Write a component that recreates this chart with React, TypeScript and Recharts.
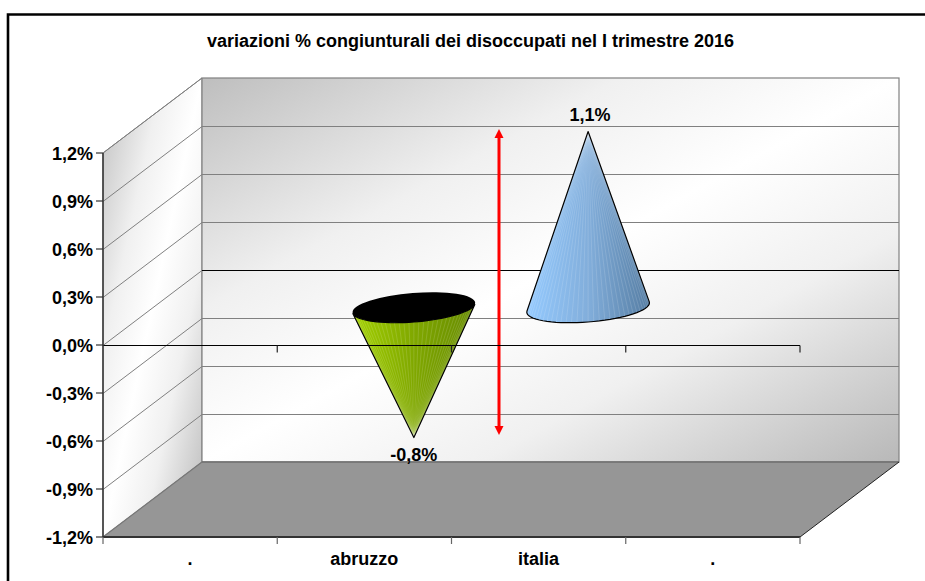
import React from "react";
import { BarChart, Bar, XAxis, YAxis, Customized, ReferenceLine, LabelList } from "recharts";

const categories = [".", "abruzzo", "italia", "."];
const variations: (number | null)[] = [null, -0.8, 1.1, null];
const yTicks = [-1.2, -0.9, -0.6, -0.3, 0, 0.3, 0.6, 0.9, 1.2];
const titleText = "variazioni % congiunturali dei disoccupati nel I trimestre 2016";
const rows = categories.map((name, i) => ({ name, value: variations[i] }));

const W = 925, H = 581;
const PL = 103, PT = 153, PR = 800, PB = 537;
const DX = 99, DY = -75;
const FONT = "'Liberation Sans', Arial, sans-serif";
const LABEL_SIZE = 18;

const yOf = (v: number) => PT + ((1.2 - v) / 2.4) * (PB - PT);
const fmt = (v: number) => v.toFixed(1).replace(".", ",") + "%";
const poly = (pts: number[][]) => pts.map((p) => p.join(",")).join(" ");

function Scene() {
  return (
    <g>
      <defs>
        <linearGradient id="wall" x1="0" y1="0" x2="1" y2="1">
          <stop offset="0" stopColor="#bebebe" />
          <stop offset="0.3" stopColor="#f0f0f0" />
          <stop offset="0.5" stopColor="#ffffff" />
          <stop offset="0.7" stopColor="#f0f0f0" />
          <stop offset="1" stopColor="#b8b8b8" />
        </linearGradient>
        <linearGradient id="coneGreen" x1="0" y1="0" x2="1" y2="0">
          <stop offset="0" stopColor="#a2d000" />
          <stop offset="0.5" stopColor="#80a800" />
          <stop offset="1" stopColor="#668a00" />
        </linearGradient>
        <linearGradient id="coneBlue" x1="0" y1="0" x2="1" y2="0">
          <stop offset="0" stopColor="#94caff" />
          <stop offset="0.5" stopColor="#82aedb" />
          <stop offset="1" stopColor="#557da3" />
        </linearGradient>
      </defs>
      <path d={`M8 ${H + 10} V14.5 H${W + 10}`} fill="none" stroke="#000" strokeWidth={2.6} />
      <text x={470.5} y={47} textAnchor="middle" fontFamily={FONT} fontWeight="bold" fontSize={LABEL_SIZE} fill="#000">
        {titleText}
      </text>
      <polygon
        points={poly([[PL, PT], [PL + DX, PT + DY], [PL + DX, PB + DY], [PL, PB]])}
        fill="url(#wall)" stroke="#808080" strokeWidth={1}
      />
      <rect x={PL + DX} y={PT + DY} width={PR - PL} height={PB - PT} fill="url(#wall)" stroke="#808080" strokeWidth={1.2} />
      {yTicks.slice(1, -1).map((v) => {
        const y = Math.round(yOf(v)) + 0.5;
        const c = v === 0 ? "#000" : "#808080";
        return (
          <g key={v}>
            <line x1={PL} y1={y} x2={PL + DX} y2={y + DY} stroke="#808080" strokeWidth={1} />
            <line x1={PL + DX} y1={y + DY} x2={PR + DX} y2={y + DY} stroke={c} strokeWidth={1} />
          </g>
        );
      })}
      <line x1={PL + DX} y1={PT + DY} x2={PL} y2={PT} stroke="#808080" />
      <polygon
        points={poly([[PL, PB], [PR, PB], [PR + DX, PB + DY], [PL + DX, PB + DY]])}
        fill="#969696"
      />
      <line x1={PL + DX} y1={PB + DY} x2={PR + DX} y2={PB + DY} stroke="#6e6e6e" strokeWidth={1.5} />
      <line x1={PL} y1={PB} x2={PL + DX} y2={PB + DY} stroke="#777" strokeWidth={1.2} />
      <line x1={PR} y1={PB} x2={PR + DX} y2={PB + DY} stroke="#222" strokeWidth={1} />
    </g>
  );
}

function Cone(props: any) {
  const { x, y, width, height, payload } = props;
  const value = payload.value;
  if (value == null) return null;
  const tipY0 = value >= 0 ? Math.min(y, y + height) : Math.max(y, y + height);
  const zeroY0 = value >= 0 ? Math.max(y, y + height) : Math.min(y, y + height);
  const cx = x + width / 2 + DX / 2;
  const cy = zeroY0 + DY / 2;
  const tipX = cx;
  const tipY = tipY0 + DY / 2 + (value < 0 ? 2 : 0);
  const a = width / 2;
  const b = a * 0.235;
  const th = (-4.6 * Math.PI) / 180;
  const pt = (t: number) => [
    cx + a * Math.cos(t) * Math.cos(th) - b * Math.sin(t) * Math.sin(th),
    cy + a * Math.cos(t) * Math.sin(th) + b * Math.sin(t) * Math.cos(th),
  ];
  const dx = tipX - cx, dy = tipY - cy;
  const p = (dx * Math.cos(th) + dy * Math.sin(th)) / a;
  const q = (-dx * Math.sin(th) + dy * Math.cos(th)) / b;
  const R = Math.hypot(p, q);
  const phi = Math.atan2(q, p);
  const del = Math.acos(1 / R);
  const from = value >= 0 ? phi + del : phi - del;
  const to = value >= 0 ? phi - del + 2 * Math.PI : phi + del;
  const steps = 36;
  const arc: number[][] = [];
  for (let i = 0; i <= steps; i++) arc.push(pt(from + ((to - from) * i) / steps));
  const d = `M${tipX} ${tipY} ` + arc.map((c) => `L${c[0]} ${c[1]}`).join(" ") + " Z";
  return (
    <g>
      <path d={d} fill={value >= 0 ? "url(#coneBlue)" : "url(#coneGreen)"} />
      {arc.slice(1, -1).map((c, i) => (
        <line key={i} x1={tipX} y1={tipY} x2={c[0]} y2={c[1]} stroke="#fff" strokeOpacity={0.2} strokeWidth={0.7} />
      ))}
      <path d={d} fill="none" stroke="#000" strokeWidth={1.2} strokeLinejoin="round" />
      {value < 0 && (
        <ellipse cx={cx} cy={cy} rx={a} ry={b} fill="#000" transform={`rotate(-4.6 ${cx} ${cy})`} />
      )}
    </g>
  );
}

function ConeLabel(props: any) {
  const { x, y, width, height, value } = props;
  if (value == null) return null;
  const tip = value >= 0 ? Math.min(y, y + height) : Math.max(y, y + height);
  const cx = x + width / 2 + DX / 2 + (value >= 0 ? 2 : 0);
  const ty = tip + DY / 2 + (value >= 0 ? -11 : 25);
  return (
    <text x={cx} y={ty} textAnchor="middle" fontFamily={FONT} fontWeight="bold" fontSize={LABEL_SIZE} fill="#000">
      {fmt(value)}
    </text>
  );
}

function ZeroAxis(props: any) {
  const { x1, y1, x2 } = props;
  const left = x1 ?? PL;
  const right = x2 ?? PR;
  const y = Math.round(y1 ?? yOf(0)) + 0.5;
  const marks = categories.map((_, i) => left + ((right - left) * (i + 1)) / categories.length);
  return (
    <g>
      <line x1={left} y1={y} x2={right} y2={y} stroke="#000" strokeWidth={1} />
      {marks.map((m) => (
        <line key={m} x1={m} y1={y} x2={m} y2={y + 7} stroke="#222" strokeWidth={1.2} />
      ))}
    </g>
  );
}

function CategoryTick(props: any) {
  const { x, payload, index } = props;
  const band = (PR - PL) / categories.length;
  const left = x - band / 2;
  return (
    <g>
      <line x1={left} y1={PB} x2={left} y2={PB + 7} stroke="#666" strokeWidth={1.2} />
      {index === categories.length - 1 && (
        <line x1={left + band} y1={PB} x2={left + band} y2={PB + 7} stroke="#666" strokeWidth={1.2} />
      )}
      <text x={x} y={565} textAnchor="middle" fontFamily={FONT} fontWeight="bold" fontSize={LABEL_SIZE} fill="#000">
        {payload.value}
      </text>
    </g>
  );
}

function RedArrow() {
  const x = 499, top = 129, bottom = 435;
  return (
    <g fill="#ff0000">
      <line x1={x} y1={top + 6} x2={x} y2={bottom - 6} stroke="#ff0000" strokeWidth={3} />
      <polygon points={poly([[x, top], [x - 4.5, top + 9], [x + 4.5, top + 9]])} />
      <polygon points={poly([[x, bottom], [x - 4.5, bottom - 9], [x + 4.5, bottom - 9]])} />
    </g>
  );
}

export default function App() {
  return (
    <div style={{ position: "absolute", left: 0, top: 0, width: W, height: H, overflow: "hidden", background: "#fff" }}>
      <BarChart
        width={W}
        height={H}
        data={rows}
        barCategoryGap="14.7%"
        margin={{ top: PT, right: W - PR, bottom: 0, left: 0 }}
      >
        <Customized component={Scene} />
        <XAxis
          dataKey="name"
          height={H - PB}
          axisLine={{ stroke: "#333", strokeWidth: 2 }}
          tickLine={false}
          interval={0}
          tick={<CategoryTick />}
        />
        <YAxis
          width={PL}
          type="number"
          domain={[-1.2, 1.2]}
          ticks={yTicks}
          interval={0}
          tickFormatter={fmt}
          axisLine={{ stroke: "#333", strokeWidth: 1.5 }}
          tickLine={{ stroke: "#333", strokeWidth: 1.2 }}
          tickSize={7}
          tickMargin={3}
          tick={{ fontFamily: FONT, fontWeight: "bold", fontSize: LABEL_SIZE, fill: "#000", dy: 1 }}
        />
        <Bar dataKey="value" isAnimationActive={false} shape={<Cone />}>
          <LabelList dataKey="value" content={<ConeLabel />} />
        </Bar>
        <ReferenceLine y={0} shape={<ZeroAxis />} />
        <Customized component={RedArrow} />
      </BarChart>
    </div>
  );
}
